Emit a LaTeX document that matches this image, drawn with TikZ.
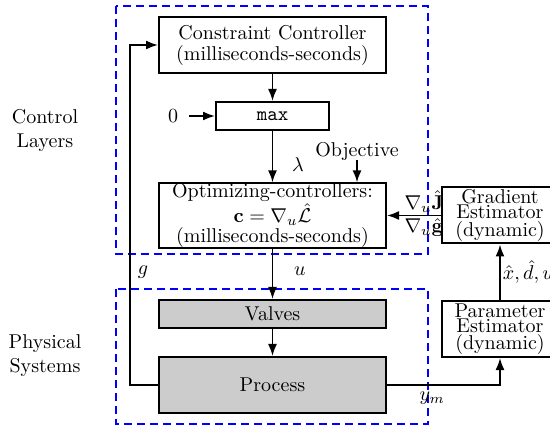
\documentclass[tikz,border=0pt]{standalone}
\usetikzlibrary{arrows.meta}
\begin{document}
\begin{tikzpicture}[x=0.5pt,y=-0.5pt,
  blk/.style={draw,line width=1pt,rectangle,inner sep=0pt,align=center,minimum width=113.5pt},
  tall/.style={minimum height=28pt},
  short/.style={minimum height=14pt},
  est/.style={draw,line width=1pt,rectangle,inner sep=0pt,align=center,minimum width=58pt,minimum height=28pt,
    execute at begin node={\setlength{\baselineskip}{7.5pt}}},
  phys/.style={fill=black!20},
  arr/.style={line width=0.9pt,-{Latex[length=6pt,width=4.5pt]}},
  layer/.style={draw=blue,line width=1pt,dash pattern=on 4pt off 2.5pt},
  lbl/.style={inner sep=1pt}]
\useasboundingbox (0,0) rectangle (550,426);

% layer frames
\draw[layer] (116,6) rectangle (428,254);
\draw[layer] (116,289) rectangle (428,424);
\node[align=center] (ctl) at (45,131) {Control\\Layers};
\node[align=center] (phy) at (45,356) {Physical\\Systems};

% control blocks
\node[blk,tall,execute at begin node={\setlength{\baselineskip}{10.5pt}}] (cc) at (272.5,45) {Constraint Controller\\(milliseconds-seconds)};
\node[blk,short,minimum width=56.5pt] (mx) at (272.5,116) {\texttt{max}};
\node[blk,tall,execute at begin node={\setlength{\baselineskip}{8.2pt}}] (opt) at (272.5,215.5) {Optimizing-controllers:\\$\mathbf{c}=\nabla_u\hat{\mathcal{L}}$\\(milliseconds-seconds)};

% physical blocks
\node[blk,short,phys] (vl) at (272.5,314) {Valves};
\node[blk,tall,phys] (pr) at (272.5,385) {Process};

% estimators
\node[est] (ge) at (500,215.5) {Gradient\\Estimator\\(dynamic)};
\node[est] (pe) at (500,329) {Parameter\\Estimator\\(dynamic)};

% inputs
\node (zero) at (173,116) {0};
\node (obj) at (357,152) {Objective};
\coordinate (objt) at (357,160);

% signal flow
\draw[arr] (cc) -- (mx);
\draw[arr] (zero.east) ++(4,0) -- (mx.west);
\draw[arr] (mx) -- node[pos=0.5,right=6pt,yshift=-4pt] {$\lambda$} (opt);
\draw[arr] (objt) -- (objt |- opt.north);
\draw[arr] (opt) -- node[pos=0.45,right=7pt] {$u$} (vl);
\draw[arr] (vl) -- (pr);
\draw[arr] (pr.west) -- ++(-28,0) coordinate (fb) -- (fb |- cc.west) -- (cc.west);
\node (g) at (143,272) {$g$};
\draw[arr] (pr.east) -| node[pos=0.2,below,lbl,yshift=-2pt] {$y_m$} (pe.south);
\draw[arr] (pe) -- node[right,lbl] {$\hat{x},\hat{d},u$} (ge);
\draw[arr] (ge) -- node[above,lbl,xshift=5pt] {$\nabla_u\hat{\mathbf{J}}$} node[below,lbl,xshift=5pt] {$\nabla_u\hat{\mathbf{g}}$} (opt);
\end{tikzpicture}
\end{document}
